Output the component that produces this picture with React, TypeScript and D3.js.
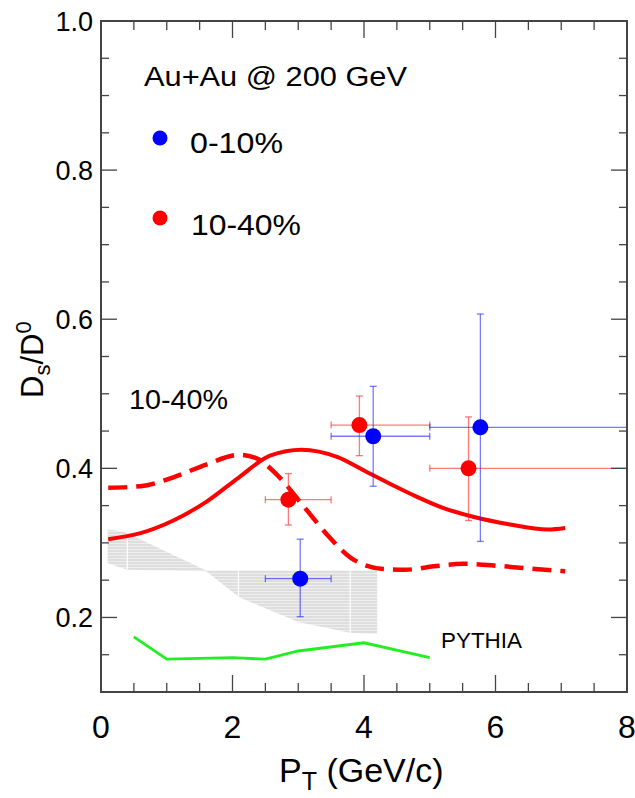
import React from "react";
import * as d3 from "d3";

const W = 635;
const H = 798;

const xTicksMajor = [0, 2, 4, 6, 8];
const yTicksMajor = [0.2, 0.4, 0.6, 0.8, 1.0];
const yTickLabels = ["0.2", "0.4", "0.6", "0.8", "1.0"];

const blueX = [3.03, 4.14, 5.77];
const blueY = [0.252, 0.443, 0.455];
const blueXLow = [2.5, 3.5, 5.0];
const blueXHigh = [3.5, 5.0, 8.0];
const blueYLow = [0.201, 0.376, 0.302];
const blueYHigh = [0.305, 0.51, 0.607];

const redX = [2.85, 3.93, 5.59];
const redY = [0.358, 0.458, 0.4];
const redXLow = [2.5, 3.5, 5.0];
const redXHigh = [3.5, 5.0, 8.0];
const redYLow = [0.324, 0.417, 0.33];
const redYHigh = [0.393, 0.497, 0.469];

const solidCurve: [number, number][] = [
  [0.11, 0.305], [0.6, 0.313], [1.1, 0.33], [1.6, 0.355], [2.1, 0.388],
  [2.57, 0.417], [3.05, 0.425], [3.6, 0.415], [4.0, 0.397], [4.4, 0.379],
  [4.8, 0.362], [5.2, 0.347], [5.66, 0.335], [6.2, 0.325], [6.8, 0.318], [7.06, 0.32],
];
const dashedCurve: [number, number][] = [
  [0.11, 0.374], [0.6, 0.376], [1.1, 0.388], [1.6, 0.405], [2.1, 0.418],
  [2.35, 0.414], [2.67, 0.392], [3.1, 0.347], [3.45, 0.31], [3.8, 0.28],
  [4.3, 0.265], [4.62, 0.264], [5.1, 0.269], [5.5, 0.272], [6.07, 0.269],
  [6.6, 0.265], [7.06, 0.262],
];
const pythia: [number, number][] = [
  [0.5, 0.174], [1.0, 0.144], [2.0, 0.146], [2.5, 0.144], [3.0, 0.155], [4.0, 0.166], [5.0, 0.146],
];
const bandUpper: [number, number][] = [
  [0.1, 0.318], [0.35, 0.315], [1.6, 0.263], [4.2, 0.263],
];
const bandLower: [number, number][] = [
  [0.1, 0.273], [0.4, 0.264], [1.6, 0.262], [2.1, 0.227], [3.0, 0.194], [3.8, 0.179], [4.2, 0.178],
];
const bandEdges = [0.4, 2.09, 3.79];

export default function App() {
  const x = d3.scaleLinear().domain([0, 8]).range([101, 627]);
  const y = d3.scaleLinear().domain([0.1, 1.0]).range([692, 21]);
  const [x0, x1] = x.range();
  const [y0, y1] = y.range();

  const line = d3.line<[number, number]>().x((d) => x(d[0])).y((d) => y(d[1]));
  const smooth = d3
    .line<[number, number]>()
    .x((d) => x(d[0]))
    .y((d) => y(d[1]))
    .curve(d3.curveMonotoneX);

  const bandPath = line([...bandUpper, ...bandLower.slice().reverse()]) + "Z";

  const xMinor = d3.range(0, 8.001, 0.5);
  const yMinor = d3.range(0.1, 1.0001, 0.05);
  const axisColor = "#444";

  const isMajorX = (v: number) => Math.abs(v / 2 - Math.round(v / 2)) < 1e-6;
  const isMajorY = (v: number) => Math.abs(v / 0.2 - Math.round(v / 0.2)) < 1e-6;

  const errBars = (
    xs: number[], ys: number[], xl: number[], xh: number[], yl: number[], yh: number[], col: string
  ) =>
    xs.map((xv, i) => (
      <g key={i} stroke={col} strokeWidth={1.3} strokeOpacity={0.6}>
        <line x1={x(xl[i])} x2={x(xh[i])} y1={y(ys[i])} y2={y(ys[i])} />
        <line x1={x(xl[i])} x2={x(xl[i])} y1={y(ys[i]) - 3.5} y2={y(ys[i]) + 3.5} />
        <line x1={x(xh[i])} x2={x(xh[i])} y1={y(ys[i]) - 3.5} y2={y(ys[i]) + 3.5} />
        <line x1={x(xv)} x2={x(xv)} y1={y(yl[i])} y2={y(yh[i])} />
        <line x1={x(xv) - 3.5} x2={x(xv) + 3.5} y1={y(yl[i])} y2={y(yl[i])} />
        <line x1={x(xv) - 3.5} x2={x(xv) + 3.5} y1={y(yh[i])} y2={y(yh[i])} />
      </g>
    ));

  const font = "Liberation Sans, Arial, Helvetica, sans-serif";

  return (
    <svg
      width={W}
      height={H}
      style={{ position: "absolute", left: 0, top: 0, background: "#fff" }}
      fontFamily={font}
    >
      <defs>
        <pattern id="hatch" width="6" height="3" patternUnits="userSpaceOnUse">
          <rect width="6" height="3" fill="#dedede" />
          <line x1="0" x2="6" y1="0.5" y2="0.5" stroke="#f2f2f2" strokeWidth="0.8" />
        </pattern>
        <clipPath id="bandclip">
          <path d={bandPath} />
        </clipPath>
      </defs>
      <rect x={0} y={0} width={W} height={H} fill="#fff" />

      <path d={bandPath} fill="url(#hatch)" />
      {bandEdges.map((b, i) => (
        <line key={i} x1={x(b)} x2={x(b)} y1={y(0.33)} y2={y(0.17)} stroke="#fff" strokeWidth={1.2}
          clipPath="url(#bandclip)" />
      ))}

      <path d={line(pythia) || ""} fill="none" stroke="#22ee22" strokeWidth={2.8} />

      <path d={smooth(solidCurve) || ""} fill="none" stroke="#ff0000" strokeWidth={4} />
      <path d={smooth(dashedCurve) || ""} fill="none" stroke="#ff0000" strokeWidth={4.5}
        strokeDasharray="19 9" />

      {errBars(redX, redY, redXLow, redXHigh, redYLow, redYHigh, "#ff2020")}
      {errBars(blueX, blueY, blueXLow, blueXHigh, blueYLow, blueYHigh, "#2020ff")}
      {redX.map((xv, i) => (
        <circle key={"r" + i} cx={x(xv)} cy={y(redY[i])} r={8} fill="#ff0000" />
      ))}
      {blueX.map((xv, i) => (
        <circle key={"b" + i} cx={x(xv)} cy={y(blueY[i])} r={8} fill="#0000ff" />
      ))}

      <rect x={x0} y={y1} width={x1 - x0} height={y0 - y1} fill="none" stroke={axisColor} strokeWidth={2} />
      {xMinor.map((v, i) => {
        const len = isMajorX(v) ? 17 : 9;
        return (
          <g key={"xt" + i} stroke={axisColor} strokeWidth={1.3}>
            <line x1={x(v)} x2={x(v)} y1={y0} y2={y0 - len} />
            <line x1={x(v)} x2={x(v)} y1={y1} y2={y1 + len} />
          </g>
        );
      })}
      {yMinor.map((v, i) => {
        const len = isMajorY(v) ? 16 : 8;
        return (
          <g key={"yt" + i} stroke={axisColor} strokeWidth={1.3}>
            <line x1={x0} x2={x0 + len} y1={y(v)} y2={y(v)} />
            <line x1={x1} x2={x1 - len} y1={y(v)} y2={y(v)} />
          </g>
        );
      })}

      {yTicksMajor.map((v, i) => (
        <text key={"yl" + i} x={93} y={y(v) + 10} textAnchor="end" fontSize={27} fill="#000">
          {yTickLabels[i]}
        </text>
      ))}
      {xTicksMajor.map((v, i) => (
        <text key={"xl" + i} x={x(v)} y={738} textAnchor="middle" fontSize={32} fill="#000">
          {String(v)}
        </text>
      ))}

      <text x={279} y={782} fontSize={34} fill="#000">
        P<tspan fontSize={25} dy={8}>T</tspan>
        <tspan dy={-8}> (GeV/c)</tspan>
      </text>
      <text transform="translate(43,398) rotate(-90)" fontSize={31} fill="#000">
        D<tspan fontSize={22} dy={7}>s</tspan>
        <tspan dy={-7}>/D</tspan>
        <tspan fontSize={22} dy={-12}>0</tspan>
      </text>

      <text x={144} y={86} fontSize={27} textLength={263} lengthAdjust="spacingAndGlyphs" fill="#000">
        Au+Au @ 200 GeV
      </text>
      <circle cx={160} cy={138} r={7.5} fill="#0000ff" />
      <text x={190} y={153} fontSize={30} textLength={93} lengthAdjust="spacingAndGlyphs" fill="#000">
        0-10%
      </text>
      <circle cx={160} cy={218} r={7.5} fill="#ff0000" />
      <text x={191} y={235} fontSize={30} textLength={110} lengthAdjust="spacingAndGlyphs" fill="#000">
        10-40%
      </text>
      <text x={129} y={409} fontSize={28} textLength={99} lengthAdjust="spacingAndGlyphs" fill="#000">
        10-40%
      </text>
      <text x={441} y={648} fontSize={22} textLength={81} lengthAdjust="spacingAndGlyphs" fill="#000">
        PYTHIA
      </text>
    </svg>
  );
}
